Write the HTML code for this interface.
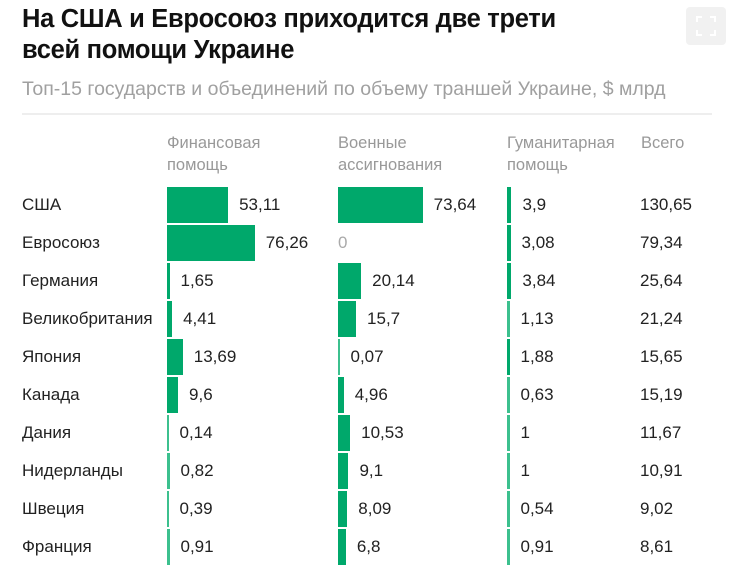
<!DOCTYPE html>
<html><head><meta charset="utf-8"><style>
body{margin:0;background:#fff;width:748px;height:566px;overflow:hidden;position:relative;font-family:"Liberation Sans",sans-serif;}
.a{position:absolute;white-space:nowrap}
.t{left:22px;font-weight:bold;font-size:25.5px;color:#111;letter-spacing:-0.3px}
.h{font-size:16.5px;color:#999;line-height:22px}
.c{font-size:17px;color:#222}
.bar{position:absolute;background:#00a86b;height:36px}
</style></head><body>
<div class="a t" style="top:5px">На США и Евросоюз приходится две трети</div>
<div class="a t" style="top:36px">всей помощи Украине</div>
<div class="a" style="left:686px;top:7px;width:40px;height:38px;background:#f1f1f1;border-radius:4px">
<svg width="40" height="38"><g stroke="#fff" stroke-width="2" fill="none"><path d="M11 15V10H16M24 10H29V15M29 23V28H24M16 28H11V23"/></g></svg></div>
<div class="a" style="left:22px;top:78px;font-size:19.5px;color:#a0a0a0">Топ-15 государств и объединений по объему траншей Украине, $ млрд</div>
<div class="a" style="left:22px;top:113px;width:690px;height:2px;background:#eee"></div>
<div class="a h" style="left:167px;top:132px">Финансовая<br>помощь</div>
<div class="a h" style="left:338px;top:132px">Военные<br>ассигнования</div>
<div class="a h" style="left:507px;top:132px">Гуманитарная<br>помощь</div>
<div class="a h" style="left:641px;top:132px">Всего</div>
<div id="rows"></div>
<script>
var d=[["США",53.11,73.64,3.9,"130,65"],["Евросоюз",76.26,0,3.08,"79,34"],["Германия",1.65,20.14,3.84,"25,64"],["Великобритания",4.41,15.7,1.13,"21,24"],["Япония",13.69,0.07,1.88,"15,65"],["Канада",9.6,4.96,0.63,"15,19"],["Дания",0.14,10.53,1,"11,67"],["Нидерланды",0.82,9.1,1,"10,91"],["Швеция",0.39,8.09,0.54,"9,02"],["Франция",0.91,6.8,0.91,"8,61"]];
var h="",xs=[167,338,507];
function f(v){return String(v).replace(".",",");}
d.forEach(function(r,i){var y=187+i*38;
h+='<div class="a c" style="left:22px;top:'+(y+8)+'px">'+r[0]+'</div>';
for(var k=0;k<3;k++){var v=r[k+1],x=xs[k];
if(v===0){h+='<div class="a c" style="left:'+x+'px;top:'+(y+8)+'px;color:#aaa">0</div>';continue;}
var w=Math.max(v*1.15,v<0.5?1.5:2.5);
h+='<div class="bar" style="left:'+x+'px;top:'+y+'px;width:'+w+'px;'+(v<1.2?'background:#3cc08e;':'')+'"></div>';
h+='<div class="a c" style="left:'+(x+w+11)+'px;top:'+(y+8)+'px">'+f(v)+'</div>';}
h+='<div class="a c" style="left:640px;top:'+(y+8)+'px">'+r[4]+'</div>';});
document.getElementById("rows").innerHTML=h;
</script>
</body></html>
